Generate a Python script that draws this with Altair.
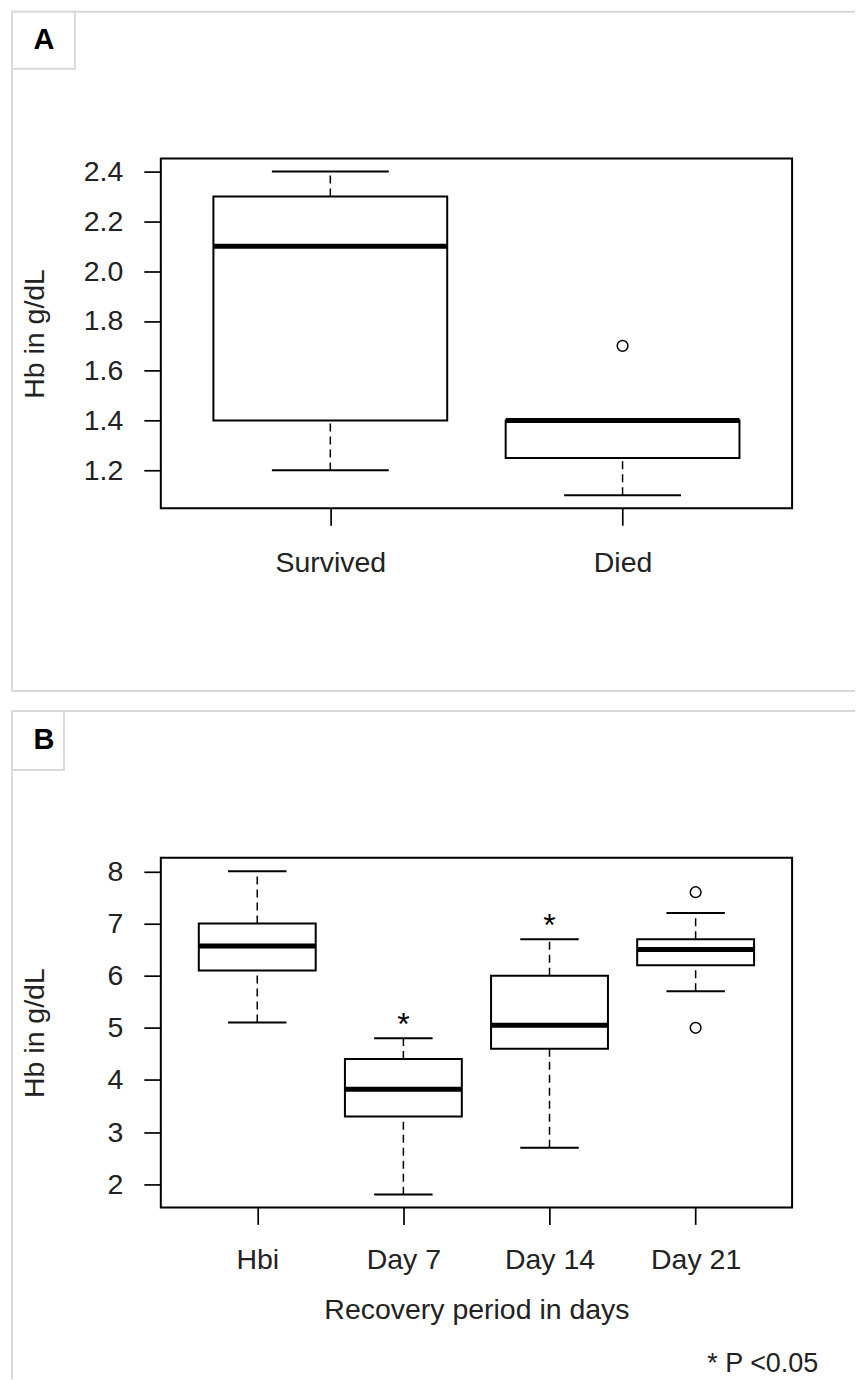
import json
import pandas as pd
import altair as alt

# ---------------- Panel A data ----------------
a_groups = ["Survived", "Died"]
a_low = [1.2, 1.1]
a_q1 = [1.4, 1.25]
a_med = [2.1, 1.4]
a_q3 = [2.3, 1.4]
a_high = [2.4, 1.4]
a_out_group = ["Died"]
a_out_value = [1.7]
a_ticks = [1.2, 1.4, 1.6, 1.8, 2.0, 2.2, 2.4]

# ---------------- Panel B data ----------------
b_groups = ["Hbi", "Day 7", "Day 14", "Day 21"]
b_low = [5.1, 1.8, 2.7, 5.7]
b_q1 = [6.1, 3.3, 4.6, 6.2]
b_med = [6.57, 3.82, 5.05, 6.5]
b_q3 = [7.0, 4.4, 6.0, 6.7]
b_high = [8.0, 4.8, 6.7, 7.2]
b_out_group = ["Day 21", "Day 21"]
b_out_value = [7.6, 5.0]
b_signif = ["Day 7", "Day 14"]
b_ticks = [2, 3, 4, 5, 6, 7, 8]

FONT = "Liberation Sans"
TXT = "#222222"
FS = 28.5
GRAY = "#d9d9d9"
W, H = 632, 350
BOX_HALF = 0.4
CAP_HALF = 0.2


def build_panel(groups, low, q1, med, q3, high, out_g, out_v, signif, ticks,
                fmt, xdom, ydom, letter, letter_box, frame_bottom, xtitle,
                xlabpad, note=None):
    pos = list(range(1, len(groups) + 1))
    df = pd.DataFrame({"group": groups, "pos": pos, "low": low, "q1": q1,
                       "med": med, "q3": q3, "high": high})
    df["left"] = df["pos"] - BOX_HALF
    df["right"] = df["pos"] + BOX_HALF
    df["capl"] = df["pos"] - CAP_HALF
    df["capr"] = df["pos"] + CAP_HALF
    out = pd.DataFrame({"group": out_g, "value": out_v})
    out["pos"] = out["group"].map(dict(zip(groups, pos)))
    stars = df[df["group"].isin(signif)]

    xs = alt.Scale(domain=xdom, nice=False, zero=False)
    ys = alt.Scale(domain=ydom, nice=False, zero=False)
    xaxis_kw = dict(values=pos,
                    labelExpr=json.dumps(groups) + "[datum.value - 1]",
                    grid=False, domain=False, tickSize=17, tickWidth=1.7,
                    tickColor="black", labelFontSize=FS, labelColor=TXT,
                    labelPadding=xlabpad, labelOverlap=False, labelFont=FONT)
    if xtitle:
        xaxis = alt.Axis(title=xtitle, titleX=W / 2, titleY=111,
                         titleAlign="center", titleBaseline="alphabetic",
                         titleFontSize=FS, titleFontWeight="normal",
                         titleColor=TXT, titleFont=FONT, **xaxis_kw)
    else:
        xaxis = alt.Axis(title=None, **xaxis_kw)
    yaxis = alt.Axis(values=ticks, format=fmt, title="Hb in g/dL",
                     titleX=-117, titleY=H / 2, titleAngle=270,
                     titleAlign="center", titleBaseline="alphabetic",
                     titleFontSize=FS, titleFontWeight="normal",
                     titleColor=TXT, titleFont=FONT,
                     grid=False, domain=False, tickSize=17, tickWidth=1.7,
                     tickColor="black", labelFontSize=FS, labelColor=TXT,
                     labelPadding=21, labelOverlap=False, labelFont=FONT)

    base = alt.Chart(df)
    whisk_up = base.mark_rule(color="black", strokeWidth=1.5, strokeDash=[8, 5]).encode(
        x=alt.X("pos:Q", scale=xs, axis=xaxis),
        y=alt.Y("q3:Q", scale=ys, axis=yaxis), y2="high:Q")
    whisk_lo = base.mark_rule(color="black", strokeWidth=1.5, strokeDash=[8, 5]).encode(
        x=alt.X("pos:Q", scale=xs, axis=xaxis),
        y=alt.Y("low:Q", scale=ys, axis=yaxis), y2="q1:Q")
    cap_hi = base.mark_rule(color="black", strokeWidth=2).encode(
        x=alt.X("capl:Q", scale=xs, axis=xaxis), x2="capr:Q",
        y=alt.Y("high:Q", scale=ys, axis=yaxis))
    cap_lo = base.mark_rule(color="black", strokeWidth=2).encode(
        x=alt.X("capl:Q", scale=xs, axis=xaxis), x2="capr:Q",
        y=alt.Y("low:Q", scale=ys, axis=yaxis))
    box = base.mark_rect(fill="white", stroke="black", strokeWidth=2).encode(
        x=alt.X("left:Q", scale=xs, axis=xaxis), x2="right:Q",
        y=alt.Y("q1:Q", scale=ys, axis=yaxis), y2="q3:Q")
    median = base.mark_rule(color="black", strokeWidth=5, strokeCap="butt").encode(
        x=alt.X("left:Q", scale=xs, axis=xaxis), x2="right:Q",
        y=alt.Y("med:Q", scale=ys, axis=yaxis))
    outl = alt.Chart(out).mark_point(shape="circle", filled=False, color="black",
                                     size=115, strokeWidth=1.5, opacity=1).encode(
        x=alt.X("pos:Q", scale=xs, axis=xaxis),
        y=alt.Y("value:Q", scale=ys, axis=yaxis))
    layers = [whisk_up, whisk_lo, cap_hi, cap_lo, box, median, outl]
    if len(stars):
        star = alt.Chart(stars).mark_text(text="*", fontSize=32, font=FONT, color="black",
                                          baseline="alphabetic", align="center", dy=-3).encode(
            x=alt.X("pos:Q", scale=xs, axis=xaxis),
            y=alt.Y("high:Q", scale=ys, axis=yaxis))
        layers.append(star)

    # decorative panel frame and letter box
    dummy = alt.Chart(pd.DataFrame({"k": [0]}))
    top_line = dummy.mark_rule(color=GRAY, strokeWidth=2).encode(
        x=alt.value(-149), x2=alt.value(695), y=alt.value(-147), y2=alt.value(-147))
    left_line = dummy.mark_rule(color=GRAY, strokeWidth=2).encode(
        x=alt.value(-149), x2=alt.value(-149), y=alt.value(-147), y2=alt.value(frame_bottom))
    layers += [top_line, left_line]
    if letter == "A":
        bot_line = dummy.mark_rule(color=GRAY, strokeWidth=2).encode(
            x=alt.value(-149), x2=alt.value(695), y=alt.value(frame_bottom), y2=alt.value(frame_bottom))
        layers.append(bot_line)
    lb = dummy.mark_rect(fill="white", stroke=GRAY, strokeWidth=2).encode(
        x=alt.value(letter_box[0]), x2=alt.value(letter_box[1]),
        y=alt.value(letter_box[2]), y2=alt.value(letter_box[3]))
    lt = dummy.mark_text(text=letter, fontSize=29, fontWeight="bold", font=FONT,
                         color="black", align="center", baseline="middle").encode(
        x=alt.value(-117), y=alt.value((letter_box[2] + letter_box[3]) / 2))
    layers += [lb, lt]
    if note:
        nt = dummy.mark_text(text=note, fontSize=27, font=FONT, color=TXT,
                             align="left", baseline="bottom").encode(
            x=alt.value(547), y=alt.value(521))
        layers.append(nt)
    return alt.layer(*layers).properties(width=W, height=H)


panel_a = build_panel(a_groups, a_low, a_q1, a_med, a_q3, a_high, a_out_group,
                      a_out_value, [], a_ticks, ".1f", [0.42, 2.58],
                      [1.048, 2.452], "A", (-149, -86, -147, -90), 533, None, 23)
panel_b = build_panel(b_groups, b_low, b_q1, b_med, b_q3, b_high, b_out_group,
                      b_out_value, b_signif, b_ticks, "d", [0.34, 4.66],
                      [1.555, 8.26], "B", (-149, -97, -147, -88), 522,
                      "Recovery period in days", 21, note="* P <0.05")

chart = alt.vconcat(panel_a, panel_b, spacing=16).properties(
    padding={"left": 10, "top": 9, "right": 0, "bottom": 0},
    background="white",
).configure(
    font=FONT,
    view=alt.ViewConfig(stroke="black", strokeWidth=2),
)

chart.save("out.html", embed_options={"renderer": "svg", "actions": False})
